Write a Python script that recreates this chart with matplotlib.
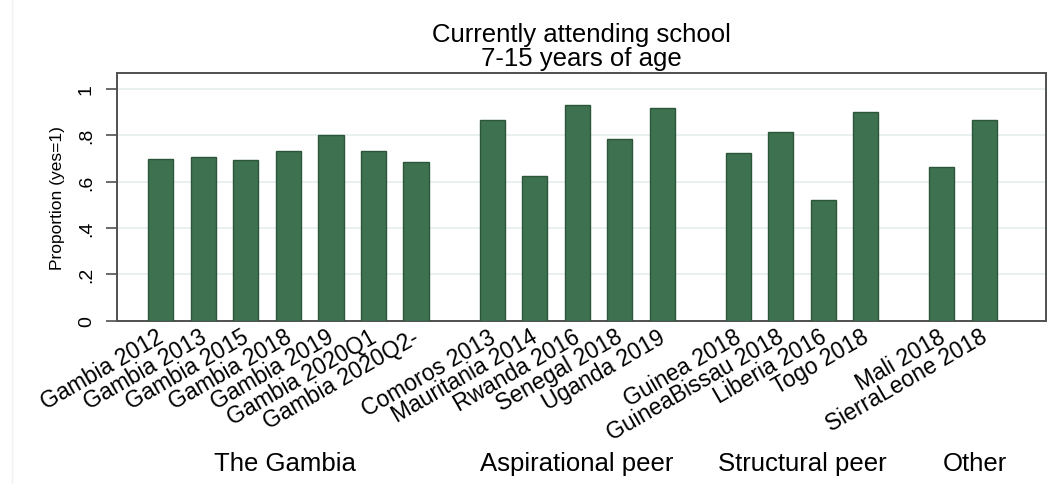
import matplotlib
matplotlib.use("Agg")
import matplotlib.pyplot as plt
import matplotlib.transforms as mtransforms
from matplotlib.lines import Line2D

surveys = [
    "Gambia 2012", "Gambia 2013", "Gambia 2015", "Gambia 2018", "Gambia 2019",
    "Gambia 2020Q1", "Gambia 2020Q2-",
    "Comoros 2013", "Mauritania 2014", "Rwanda 2016", "Senegal 2018", "Uganda 2019",
    "Guinea 2018", "GuineaBissau 2018", "Liberia 2016", "Togo 2018",
    "Mali 2018", "SierraLeone 2018",
]
attending = [
    0.698, 0.706, 0.694, 0.734, 0.800, 0.734, 0.686,
    0.866, 0.624, 0.929, 0.783, 0.918,
    0.725, 0.816, 0.519, 0.902,
    0.665, 0.866,
]
group_names = ["The Gambia", "Aspirational peer", "Structural peer", "Other"]
group_sizes = [7, 5, 4, 2]

ytick_values = [0, 0.2, 0.4, 0.6, 0.8, 1]
ytick_labels = ["0", ".2", ".4", ".6", ".8", "1"]

bar_color = "#3e7150"
edge_color = "#2b5639"
grid_color = "#e4eded"
frame_color = "#505050"

plt.rcParams["font.family"] = ["Liberation Sans", "DejaVu Sans"]

# one unit per bar, with extra room between peer groups
group_gap = 0.79
positions = []
group_spans = []
x = 0.0
for size in group_sizes:
    first = x
    for k in range(size):
        positions.append(x)
        x += 1
    group_spans.append((first, x - 1))
    x += group_gap

x_left = positions[0] - 1.04
x_right = positions[-1] + 1.45

fig = plt.figure(figsize=(10.63, 4.85), dpi=100)
ax = fig.add_axes([0.1098, 0.3367, 0.8742, 0.5113])

ax.bar(positions, attending, width=0.59, color=bar_color,
       edgecolor=edge_color, linewidth=1, zorder=3)

ax.set_xlim(x_left, x_right)
ax.set_ylim(0, 1.07)

ax.set_yticks(ytick_values)
ax.set_yticklabels(ytick_labels, rotation=90, va="center", fontsize=14)
ax.yaxis.grid(True, color=grid_color, linewidth=1.2)
ax.set_axisbelow(True)
ax.tick_params(axis="y", length=7.7, width=1.2, color=frame_color, pad=8)

ax.set_xticks(positions)
ax.set_xticklabels(surveys, rotation=30, ha="right", va="top", fontsize=16.5)
ax.tick_params(axis="x", length=0, pad=3)
shift = mtransforms.ScaledTranslation(5 / 72, 0, fig.dpi_scale_trans)
for lbl in ax.get_xticklabels():
    lbl.set_transform(lbl.get_transform() + shift)

for side in ["left", "right", "top", "bottom"]:
    ax.spines[side].set_color(frame_color)
    ax.spines[side].set_linewidth(1.4)

ax.set_title("Currently attending school\n7-15 years of age", fontsize=18.5,
             linespacing=1.03, pad=5.5)

fig.text(57.5 / 1063, 1 - 197.7 / 485, "Proportion (yes=1)", rotation=90,
         ha="center", va="center", fontsize=12.5)

# peer group names, centred in the space each group takes along the axis
label_tf = mtransforms.blended_transform_factory(ax.transData, fig.transFigure)
for i, name in enumerate(group_names):
    lo = x_left if i == 0 else (group_spans[i - 1][1] + group_spans[i][0]) / 2
    hi = x_right if i == len(group_names) - 1 else (group_spans[i][1] + group_spans[i + 1][0]) / 2
    ax.text((lo + hi) / 2, 1 - 470.7 / 485, name, transform=label_tf,
            ha="center", va="baseline", fontsize=18.5)

fig.add_artist(Line2D([12 / 1063, 12 / 1063], [0, 1], color="#f0f0f0",
                      linewidth=1, transform=fig.transFigure))

fig.savefig("out.png", dpi=100)
print("Saved figure -> out.png")
